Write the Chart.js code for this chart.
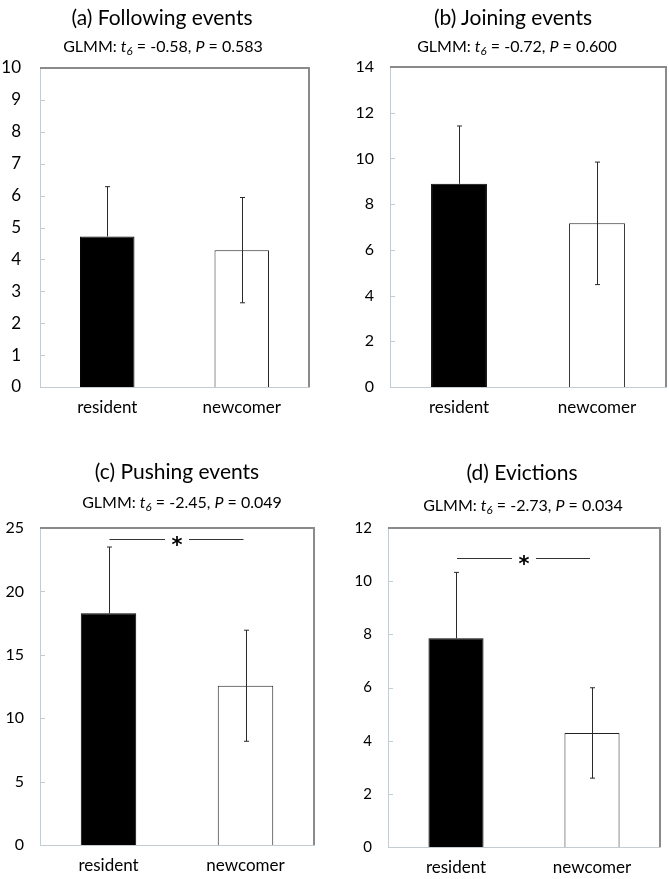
<!DOCTYPE html>
<html>
<head>
<meta charset="utf-8">
<script src="https://cdn.jsdelivr.net/npm/chart.js@4.4.1/dist/chart.umd.min.js"></script>
<style>
  html, body { margin: 0; padding: 0; background: #fff; }
  #wrap { position: relative; width: 669px; height: 879px; overflow: hidden; font-family: Lato, "Open Sans", sans-serif; color: #000; }
  .panel { position: absolute; }
  .panel canvas { position: absolute; left: 0; top: 0; }
  .ttl { position: absolute; white-space: nowrap; transform: translateX(-50%); font-size: 21px; line-height: 22px; color: #000; }
  .sub { position: absolute; white-space: nowrap; transform: translateX(-50%); font-size: 16px; line-height: 18px; color: #000; }
  .sub sub { font-size: 0.72em; vertical-align: -0.3em; line-height: 0; font-style: italic; }
</style>
</head>
<body>
<div id="wrap"></div>
<script>
// ---------- data ----------
const categories = ['resident', 'newcomer'];
const panelTitles = ['(a) Following events', '(b) Joining events', '(c) Pushing events', '(d) Evictions'];
const tValues = ['-0.58', '-0.72', '-2.45', '-2.73'];
const pValues = ['0.583', '0.600', '0.049', '0.034'];

const followingMeans = [4.72, 4.29];
const followingSE    = [1.56, 1.65];
const joiningMeans   = [8.89, 7.16];
const joiningSE      = [2.53, 2.68];
const pushingMeans   = [18.27, 12.56];
const pushingSE      = [5.23, 4.38];
const evictionMeans  = [7.85, 4.29];
const evictionSE     = [2.48, 1.70];

const yMaxValues  = [10, 14, 25, 12];
const yStepValues = [1, 2, 5, 2];
const significanceLevels = [null, null, 24.15, 10.86];

const meansList = [followingMeans, joiningMeans, pushingMeans, evictionMeans];
const seList = [followingSE, joiningSE, pushingSE, evictionSE];

// ---------- layout (positions / sizes) ----------
const panels = [
  { left: 0,   top: 0,   w: 335, h: 430, yW: 40, pad: {left:0, top:68, right:26, bottom:13}, tickFont: 17, tickPad: 19,
    title: {x:162, y:6}, sub: {x:163, y:37} },
  { left: 335, top: 0,   w: 334, h: 430, yW: 55, pad: {left:0, top:67, right:3, bottom:13}, tickFont: 16, tickPad: 16,
    title: {x:178, y:6}, sub: {x:182, y:37} },
  { left: 0,   top: 430, w: 335, h: 449, yW: 40, pad: {left:0, top:98, right:21, bottom:4}, tickFont: 16, tickPad: 16,
    title: {x:177, y:30}, sub: {x:182, y:63} },
  { left: 335, top: 430, w: 334, h: 449, yW: 53, pad: {left:0, top:98, right:9, bottom:2}, tickFont: 15, tickPad: 16,
    title: {x:187, y:31}, sub: {x:188, y:66} }
];

const AXIS_LIGHT = '#c3ccd1';
const FRAME_DARK = '#8a8a8a';
const barFills = ['#000000', '#ffffff'];

const decoPlugin = {
  id: 'deco',
  afterDatasetsDraw(chart, args, opts) {
    const ctx = chart.ctx;
    const xs = chart.scales.x, ys = chart.scales.y;
    const ca = chart.chartArea;
    ctx.save();
    // error bars (lower whisker hidden behind opaque dark bars)
    ctx.strokeStyle = '#2a2a2a';
    ctx.lineWidth = 1;
    opts.means.forEach((m, i) => {
      const px = Math.round(xs.getPixelForValue(i)) + 0.5;
      const ym = ys.getPixelForValue(m);
      const yt = ys.getPixelForValue(m + opts.se[i]);
      const yb = ys.getPixelForValue(m - opts.se[i]);
      const dark = barFills[i] === '#000000';
      ctx.beginPath();
      ctx.moveTo(px, yt); ctx.lineTo(px, dark ? ym : yb);
      ctx.moveTo(px - 2.5, yt); ctx.lineTo(px + 2.5, yt);
      if (!dark) { ctx.moveTo(px - 2.5, yb); ctx.lineTo(px + 2.5, yb); }
      ctx.stroke();
    });
    // inner y tick marks
    ctx.strokeStyle = AXIS_LIGHT;
    ys.ticks.forEach(t => {
      const py = Math.round(ys.getPixelForValue(t.value)) + 0.5;
      ctx.beginPath();
      ctx.moveTo(ca.left, py); ctx.lineTo(ca.left + 5, py);
      ctx.stroke();
    });
    // top & right frame
    ctx.strokeStyle = FRAME_DARK;
    ctx.lineWidth = 2;
    ctx.beginPath();
    ctx.moveTo(ca.left, ca.top);
    ctx.lineTo(ca.right, ca.top);
    ctx.lineTo(ca.right, ca.bottom);
    ctx.stroke();
    // significance bracket
    if (opts.sig != null) {
      const y = Math.round(ys.getPixelForValue(opts.sig)) + 0.5;
      const x0 = xs.getPixelForValue(0), x1 = xs.getPixelForValue(1);
      const mid = (x0 + x1) / 2, gap = 12;
      ctx.strokeStyle = '#333';
      ctx.lineWidth = 1;
      ctx.beginPath();
      ctx.moveTo(x0 + 1, y); ctx.lineTo(mid - gap, y);
      ctx.moveTo(mid + gap, y); ctx.lineTo(x1 - 2, y);
      ctx.stroke();
      ctx.fillStyle = '#000';
      ctx.font = 'bold 21px "DejaVu Sans"';
      ctx.textAlign = 'center';
      ctx.textBaseline = 'alphabetic';
      const mt = ctx.measureText('*');
      const base = y + 1 + (mt.actualBoundingBoxAscent - mt.actualBoundingBoxDescent) / 2;
      ctx.fillText('*', mid, base);
    }
    ctx.restore();
  }
};

const wrap = document.getElementById('wrap');

panels.forEach((p, k) => {
  const div = document.createElement('div');
  div.className = 'panel';
  div.style.left = p.left + 'px';
  div.style.top = p.top + 'px';
  div.style.width = p.w + 'px';
  div.style.height = p.h + 'px';
  const cv = document.createElement('canvas');
  cv.width = p.w; cv.height = p.h;
  cv.style.width = p.w + 'px'; cv.style.height = p.h + 'px';
  div.appendChild(cv);
  const ttl = document.createElement('div');
  ttl.className = 'ttl';
  ttl.style.left = p.title.x + 'px';
  ttl.style.top = p.title.y + 'px';
  ttl.textContent = panelTitles[k];
  div.appendChild(ttl);
  const sub = document.createElement('div');
  sub.className = 'sub';
  sub.style.left = p.sub.x + 'px';
  sub.style.top = p.sub.y + 'px';
  sub.innerHTML = 'GLMM: <i>t</i><sub>6</sub> = ' + tValues[k] + ', <i>P</i> = ' + pValues[k];
  div.appendChild(sub);
  wrap.appendChild(div);

  new Chart(cv, {
    type: 'bar',
    data: {
      labels: categories,
      datasets: [{
        data: meansList[k],
        backgroundColor: barFills,
        borderColor: ['#000000', '#222222'],
        borderWidth: 1,
        barPercentage: 0.405,
        categoryPercentage: 1.0
      }]
    },
    options: {
      responsive: false,
      animation: false,
      devicePixelRatio: 1,
      layout: { padding: p.pad },
      plugins: {
        legend: { display: false },
        tooltip: { enabled: false },
        deco: { means: meansList[k], se: seList[k], sig: significanceLevels[k] }
      },
      scales: {
        x: {
          grid: { display: false, drawTicks: false },
          border: { display: true, color: AXIS_LIGHT, width: 1 },
          ticks: { color: '#000', font: { family: 'Lato', size: 17 }, padding: 10 },
          afterFit: s => { s.height = 30; }
        },
        y: {
          min: 0, max: yMaxValues[k],
          grid: { display: false, drawTicks: false },
          border: { display: true, color: AXIS_LIGHT, width: 1 },
          ticks: { stepSize: yStepValues[k], color: '#000', font: { family: 'Lato', size: p.tickFont }, padding: p.tickPad },
          afterFit: s => { s.width = p.yW; }
        }
      }
    },
    plugins: [decoPlugin]
  });
});
</script>
</body>
</html>
